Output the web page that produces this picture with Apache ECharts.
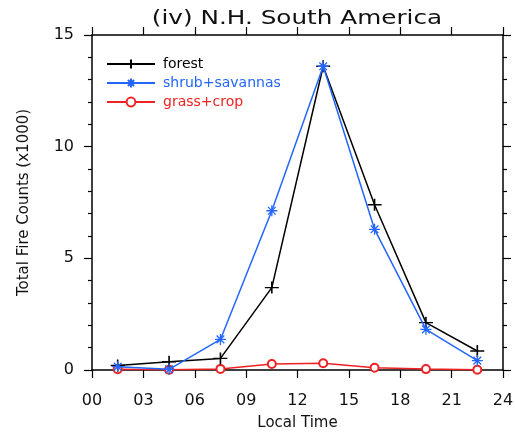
<!DOCTYPE html>
<html><head><meta charset="utf-8">
<script src="https://cdn.jsdelivr.net/npm/echarts@6/dist/echarts.min.js"></script>
<style>html,body{margin:0;padding:0;background:#fff}#c{width:515px;height:434px}</style>
</head><body><div id="c"></div>
<script>
const hours = [1.5, 4.5, 7.5, 10.5, 13.5, 16.5, 19.5, 22.5];
const forest = [0.2, 0.37, 0.52, 3.69, 13.6, 7.4, 2.12, 0.85];
const shrub = [0.15, 0.03, 1.37, 7.13, 13.6, 6.3, 1.82, 0.42];
const grass = [0.03, 0.01, 0.05, 0.27, 0.3, 0.1, 0.04, 0.01];
const xTicks = ['00','03','06','09','12','15','18','21','24'];
const titleText = '(iv) N.H. South America';

const zip = v => hours.map((h, i) => [h, v[i]]);
const FONT = 'DejaVu Sans';
const plus = 'path://M5,0L5,10M0,5L10,5';
const star = 'path://M5,0L5,10M0,5L10,5M1.5,1.5L8.5,8.5M1.5,8.5L8.5,1.5';

const chart = echarts.init(document.getElementById('c'), null, {renderer: 'canvas'});
const axisCommon = {
  axisLine: {show: true, onZero: false, lineStyle: {color: '#000', width: 1.5}},
  axisTick: {show: true, inside: false, length: 8, lineStyle: {color: '#000', width: 1.2}},
  splitLine: {show: false}
};
const minor = {show: true, splitNumber: 5, length: 4, lineStyle: {color: '#000', width: 1.2}};
chart.setOption({
  backgroundColor: '#fff',
  animation: false,
  graphic: [{
    type: 'text', x: 297, y: 19, scaleX: 1.3, z: 10,
    style: {text: titleText, fontFamily: FONT, fontSize: 19, fill: '#111',
      textAlign: 'center', textVerticalAlign: 'middle'}
  }],
  grid: {left: 92, right: 12, top: 35, bottom: 64, containLabel: false, outerBoundsMode: 'none'},
  legend: {
    orient: 'vertical', left: 101, top: 52, itemWidth: 48, itemHeight: 11, itemGap: 5,
    textStyle: {fontFamily: FONT, fontSize: 14, padding: [0, 0, 0, 3]},
    data: [
      {name: 'forest', textStyle: {color: '#000'}},
      {name: 'shrub+savannas', textStyle: {color: '#2266ff'}},
      {name: 'grass+crop', textStyle: {color: '#ee2222'}}
    ]
  },
  xAxis: [
    Object.assign({}, axisCommon, {type: 'value', min: 0, max: 24, interval: 3, position: 'bottom',
      name: 'Local Time', nameLocation: 'middle', nameGap: 46,
      nameTextStyle: {fontFamily: FONT, fontSize: 15, color: '#111'},
      axisLabel: {fontFamily: FONT, fontSize: 16, color: '#111', margin: 23,
        formatter: v => xTicks[Math.round(v / 3)]}}),
    Object.assign({}, axisCommon, {type: 'value', min: 0, max: 24, interval: 3, position: 'top',
      axisLabel: {show: false}})
  ],
  yAxis: [
    Object.assign({}, axisCommon, {type: 'value', min: 0, max: 15, interval: 5, position: 'left',
      name: 'Total Fire Counts (x1000)', nameLocation: 'middle', nameGap: 60,
      nameTextStyle: {fontFamily: FONT, fontSize: 15, color: '#111'},
      minorTick: minor,
      axisLabel: {fontFamily: FONT, fontSize: 16, color: '#111', margin: 18}}),
    Object.assign({}, axisCommon, {type: 'value', min: 0, max: 15, interval: 5, position: 'right',
      minorTick: minor, axisLabel: {show: false}})
  ],
  series: [
    {name: 'forest', type: 'line', data: zip(forest), symbol: plus, symbolSize: [14, 12],
      lineStyle: {color: '#000', width: 1.5},
      itemStyle: {color: '#000', borderColor: '#000', borderWidth: 1.5}, z: 3},
    {name: 'shrub+savannas', type: 'line', data: zip(shrub), symbol: star, symbolSize: [11, 11],
      lineStyle: {color: '#2266ff', width: 1.5},
      itemStyle: {color: '#2266ff', borderColor: '#2266ff', borderWidth: 1.3}, z: 4},
    {name: 'grass+crop', type: 'line', data: zip(grass), symbol: 'emptyCircle', symbolSize: 8,
      lineStyle: {color: '#ee2222', width: 1.5},
      itemStyle: {color: '#ee2222', borderColor: '#ee2222', borderWidth: 1.2}, z: 2}
  ]
});
</script></body></html>
